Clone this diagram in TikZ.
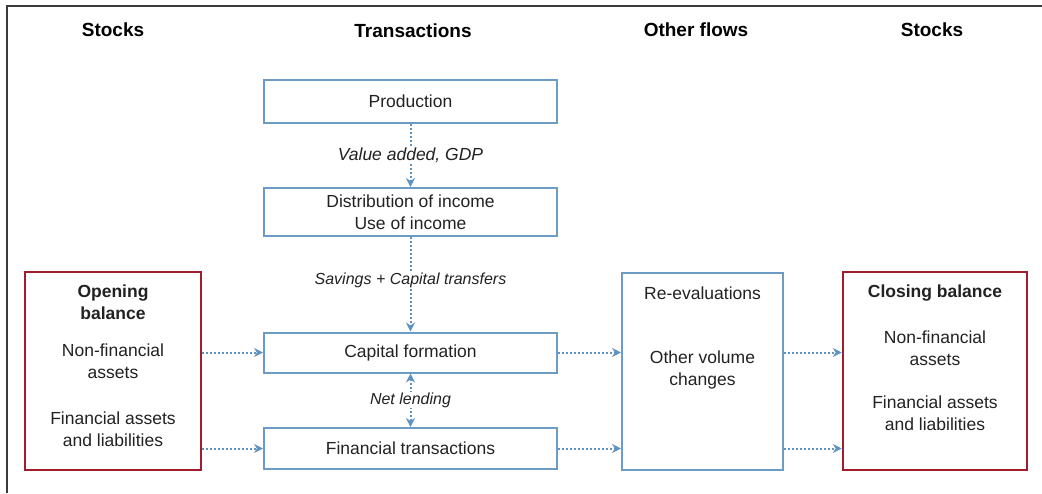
\documentclass[tikz,border=0pt]{standalone}
\usepackage{fontspec}
\setmainfont{Liberation Sans}
\usetikzlibrary{arrows.meta}
\definecolor{boxblue}{HTML}{6C9BC3}
\definecolor{boxred}{HTML}{A11D2E}
\definecolor{arrblue}{HTML}{5E93C2}
\definecolor{framegray}{HTML}{3A3A3A}
\definecolor{txt}{HTML}{222222}
\tikzset{
  hdr/.style={font=\fontsize{19}{22}\selectfont\bfseries, text=black},
  body/.style={font=\fontsize{17.5}{22}\selectfont, text=txt, align=center},
  bbold/.style={font=\fontsize{17.5}{22}\selectfont\bfseries, text=txt, align=center},
  lbl/.style={font=\fontsize{16}{19}\selectfont\itshape, text=txt, fill=white, inner sep=1pt},
  tbox/.style={draw=boxblue, line width=2pt, minimum width=293pt, inner sep=0pt, body},
  bigblue/.style={draw=boxblue, line width=2pt, inner sep=0pt},
  bigred/.style={draw=boxred, line width=2.5pt, inner sep=0pt},
  flow/.style={draw=arrblue, line width=2pt, dash pattern=on 2pt off 2pt, -{Stealth[length=9pt,width=9pt,inset=3pt]}},
  flow2/.style={draw=arrblue, line width=2pt, dash pattern=on 2pt off 2pt, {Stealth[length=9pt,width=9pt,inset=3pt]}-{Stealth[length=9pt,width=9pt,inset=3pt]}},
}
\begin{document}
\begin{tikzpicture}[x=1pt,y=-1pt]
\useasboundingbox (0,0) rectangle (1042,493);
\fill[white] (0,0) rectangle (1042,493);
% outer frame
\coordinate (fTL) at (7,6);
\coordinate (fTR) at (1042,6);
\coordinate (fBL) at (7,493);
\draw[framegray, line width=2pt] (fBL) -- (fTL) -- (fTR);
% headers
\node[hdr] (h1) at (113,30) {Stocks};
\node[hdr] (h2) at (413,31) {Transactions};
\node[hdr] (h3) at (696,30) {Other flows};
\node[hdr] (h4) at (932,30) {Stocks};
% transaction boxes
\node[tbox, minimum height=43pt] (prod) at (410.5,101.5) {Production};
\node[tbox, minimum height=48pt] (dist) at (410.5,212) {Distribution of income\\Use of income};
\node[tbox, minimum height=40pt] (cap) at (410.5,352.5) {Capital formation};
\node[tbox, minimum height=41pt] (fin) at (410.5,448.5) {Financial transactions};
% big boxes
\node[bigred, minimum width=176pt, minimum height=198pt] (open) at (113,371) {};
\node[bigblue, minimum width=161pt, minimum height=197pt] (other) at (702.5,371.5) {};
\node[bigred, minimum width=184pt, minimum height=198pt] (close) at (935,371) {};
% opening balance texts
\node[bbold] (o1) at (113,302) {Opening\\balance};
\node[body] (o2) at (113,361) {Non-financial\\assets};
\node[body] (o3) at (113,429) {Financial assets\\and liabilities};
% other flows texts
\node[body] (r1) at (702.5,293) {Re-evaluations};
\node[body] (r2) at (702.5,370) {Other volume\\changes};
% closing balance texts
\node[bbold] (c1) at (935,293) {Closing balance};
\node[body] (c2) at (935,348) {Non-financial\\assets};
\node[body] (c3) at (935,413) {Financial assets\\and liabilities};
% vertical flows
\draw[flow] (prod.south) -- (dist.north);
\node[lbl, font=\fontsize{17.5}{20}\selectfont\itshape] (l1) at (410.5,155) {Value added, GDP};
\draw[flow] (dist.south) -- (cap.north);
\node[lbl] (l2) at (410.5,280) {Savings + Capital transfers};
\draw[flow2] (cap.south) -- (fin.north);
\node[lbl] (l3) at (410.5,400) {Net lending};
% horizontal flows
\draw[flow] (open.east |- cap.west) -- (cap.west);
\draw[flow] (open.east |- fin.west) -- (fin.west);
\draw[flow] (cap.east) -- (other.west |- cap.east);
\draw[flow] (fin.east) -- (other.west |- fin.east);
\draw[flow] (other.east |- cap.east) -- (close.west |- cap.east);
\draw[flow] (other.east |- fin.east) -- (close.west |- fin.east);
\end{tikzpicture}
\end{document}
